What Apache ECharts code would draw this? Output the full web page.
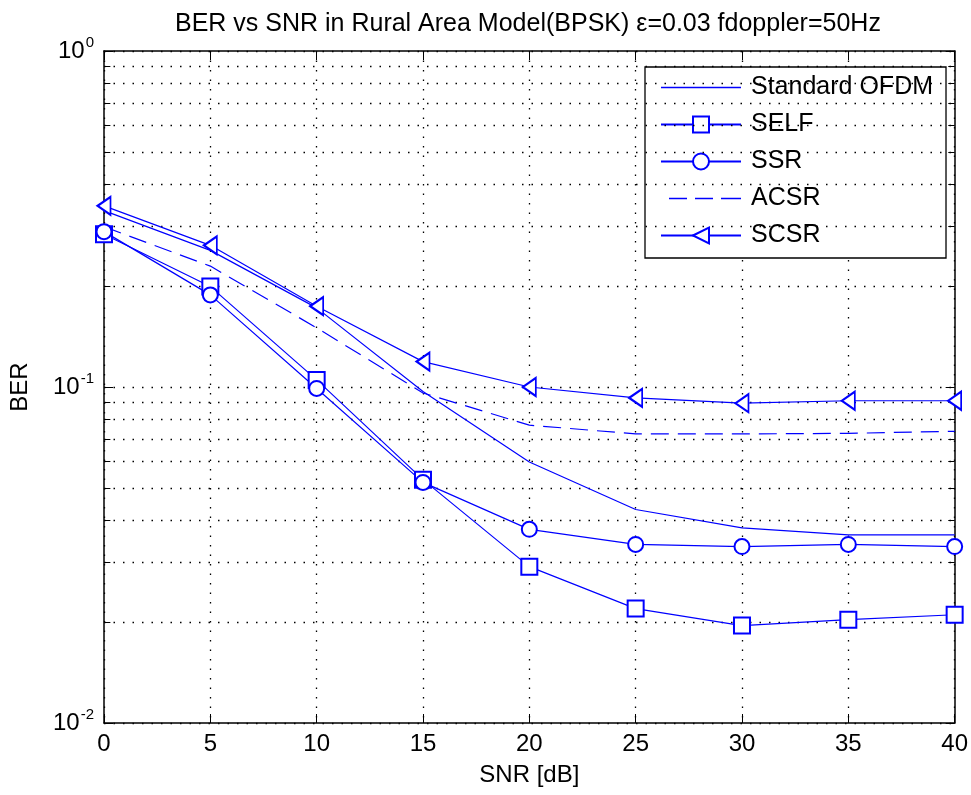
<!DOCTYPE html>
<html>
<head>
<meta charset="utf-8">
<script src="https://cdn.jsdelivr.net/npm/echarts@6/dist/echarts.min.js"></script>
<style>
  html, body { margin: 0; padding: 0; background: #fff; }
  #chart { width: 971px; height: 795px; }
</style>
</head>
<body>
<div id="chart"></div>
<script>
// SNR points (dB)
const snr = [0, 5, 10, 15, 20, 25, 30, 35, 40];

// BER per scheme
const berStandard = [0.335, 0.255, 0.172, 0.097, 0.0598, 0.0432, 0.0381, 0.0363, 0.0363];
const berSelf = [0.285, 0.199, 0.105, 0.053, 0.0292, 0.0219, 0.0195, 0.0203, 0.021];
const berSsr = [0.29, 0.188, 0.099, 0.052, 0.0377, 0.034, 0.0335, 0.034, 0.0335];
const berAcsr = [0.30, 0.229, 0.15, 0.096, 0.077, 0.0725, 0.0725, 0.0728, 0.0738];
const berScsr = [0.346, 0.264, 0.174, 0.119, 0.1, 0.0928, 0.0895, 0.091, 0.091];

// axis ticks
const xTicks = [0, 5, 10, 15, 20, 25, 30, 35, 40];
const yMinor = [0.02, 0.03, 0.04, 0.05, 0.06, 0.07, 0.08, 0.09,
                0.2, 0.3, 0.4, 0.5, 0.6, 0.7, 0.8, 0.9];

const FONT = '"Liberation Sans", Arial, Helvetica, sans-serif';
const BLUE = '#0000ff';

const chart = echarts.init(document.getElementById('chart'));

const pairs = (ys) => snr.map((x, i) => [x, ys[i]]);

const dotted = { color: '#000', width: 1.3, type: [1.5, 8] };

// minor grid lines + minor ticks on left/right edges (log axis minor ticks are not decade-aware)
const minorTickLen = 0.3;
const minorMarks = [];
yMinor.forEach((v) => {
  minorMarks.push({ yAxis: v, lineStyle: dotted });
  minorMarks.push([
    { coord: [xTicks[0], v], lineStyle: { color: '#000', width: 1, type: 'solid' } },
    { coord: [xTicks[0] + minorTickLen, v] }
  ]);
  minorMarks.push([
    { coord: [xTicks[xTicks.length - 1] - minorTickLen, v], lineStyle: { color: '#000', width: 1, type: 'solid' } },
    { coord: [xTicks[xTicks.length - 1], v] }
  ]);
});

const lineSeries = (name, ys, extra) => Object.assign({
  name: name,
  type: 'line',
  data: pairs(ys),
  color: BLUE,
  lineStyle: { color: BLUE, width: 1.2 },
  itemStyle: { color: BLUE, borderWidth: 1.2 },
  symbol: 'none',
  animation: false,
  z: 5
}, extra);

// plain line icons for the legend (series without markers)
const solidIcon = 'path://M0,0h80v1.5H0z';
const dashIcon = 'path://M0,0h0.01v1.5H0z M8,0h18v1.5H8z M34,0h18v1.5H34z M60,0h20v1.5H60z';

const option = {
  backgroundColor: '#fff',
  animation: false,
  title: {
    text: 'BER vs SNR in Rural Area Model(BPSK) ε=0.03 fdoppler=50Hz',
    left: 170,
    top: 7,
    textStyle: { fontFamily: FONT, fontSize: 25, fontWeight: 'normal', color: '#000' }
  },
  grid: { left: 103, right: 16, top: 51, bottom: 72 },
  legend: {
    left: 645,
    top: 67,
    orient: 'vertical',
    itemWidth: 80,
    itemHeight: 20,
    itemGap: 12,
    padding: [8, 13, 10, 15],
    backgroundColor: '#fff',
    borderColor: '#000',
    borderWidth: 1.3,
    textStyle: { fontFamily: FONT, fontSize: 25, lineHeight: 25, color: '#000', padding: [0, 0, 0, 5] },
    data: [
      { name: 'Standard OFDM', icon: solidIcon, itemStyle: { color: BLUE, borderWidth: 0 } },
      'SELF',
      'SSR',
      { name: 'ACSR', icon: dashIcon, itemStyle: { color: BLUE, borderWidth: 0 } },
      'SCSR'
    ]
  },
  xAxis: [
    {
      type: 'value',
      min: 0,
      max: 40,
      interval: 5,
      name: 'SNR [dB]',
      nameLocation: 'middle',
      nameGap: 40,
      nameTextStyle: { fontFamily: FONT, fontSize: 24, color: '#000' },
      axisLine: { show: true, onZero: false, lineStyle: { color: '#000', width: 1.5 } },
      axisTick: { show: true, inside: true, length: 9, lineStyle: { color: '#000' } },
      axisLabel: { fontFamily: FONT, fontSize: 24, color: '#000', margin: 9 },
      splitLine: { show: true, lineStyle: dotted }
    },
    {
      type: 'value',
      position: 'top',
      min: 0,
      max: 40,
      interval: 5,
      axisLine: { show: true, onZero: false, lineStyle: { color: '#000', width: 1.5 } },
      axisTick: { show: true, inside: true, length: 9, lineStyle: { color: '#000' } },
      axisLabel: { show: false },
      splitLine: { show: false }
    }
  ],
  yAxis: [
    {
      type: 'log',
      logBase: 10,
      min: 0.01,
      max: 1,
      name: 'BER',
      nameLocation: 'middle',
      nameGap: 72,
      nameTextStyle: { fontFamily: FONT, fontSize: 24, color: '#000' },
      axisLine: { show: true, onZero: false, lineStyle: { color: '#000', width: 1.5 } },
      axisTick: { show: true, inside: true, length: 9, lineStyle: { color: '#000' } },
      axisLabel: {
        margin: 10,
        formatter: (v) => '{b|10}{s|' + Math.round(Math.log10(v)) + '}',
        rich: {
          b: { fontFamily: FONT, fontSize: 24, color: '#000', padding: [4, 0, 4, 0] },
          s: { fontFamily: FONT, fontSize: 15, color: '#000', verticalAlign: 'top', padding: [0, 0, 14, 1] }
        }
      },
      splitLine: { show: true, lineStyle: dotted }
    },
    {
      type: 'log',
      logBase: 10,
      min: 0.01,
      max: 1,
      position: 'right',
      axisLine: { show: true, onZero: false, lineStyle: { color: '#000', width: 1.5 } },
      axisTick: { show: true, inside: true, length: 9, lineStyle: { color: '#000' } },
      axisLabel: { show: false },
      splitLine: { show: false }
    }
  ],
  series: [
    {
      name: 'grid-minor',
      type: 'line',
      data: [],
      silent: true,
      animation: false,
      markLine: {
        silent: true,
        symbol: 'none',
        label: { show: false },
        animation: false,
        data: minorMarks
      },
      z: 1
    },
    lineSeries('Standard OFDM', berStandard),
    lineSeries('SELF', berSelf, { symbol: 'emptyRect', symbolSize: 16 }),
    lineSeries('SSR', berSsr, { symbol: 'emptyCircle', symbolSize: 15 }),
    lineSeries('ACSR', berAcsr, { lineStyle: { color: BLUE, width: 1.2, type: [18, 9] } }),
    lineSeries('SCSR', berScsr, { symbol: 'emptyTriangle', symbolSize: [18, 13], symbolRotate: 90 })
  ]
};

chart.setOption(option);
window.addEventListener('resize', () => chart.resize());
</script>
</body>
</html>
